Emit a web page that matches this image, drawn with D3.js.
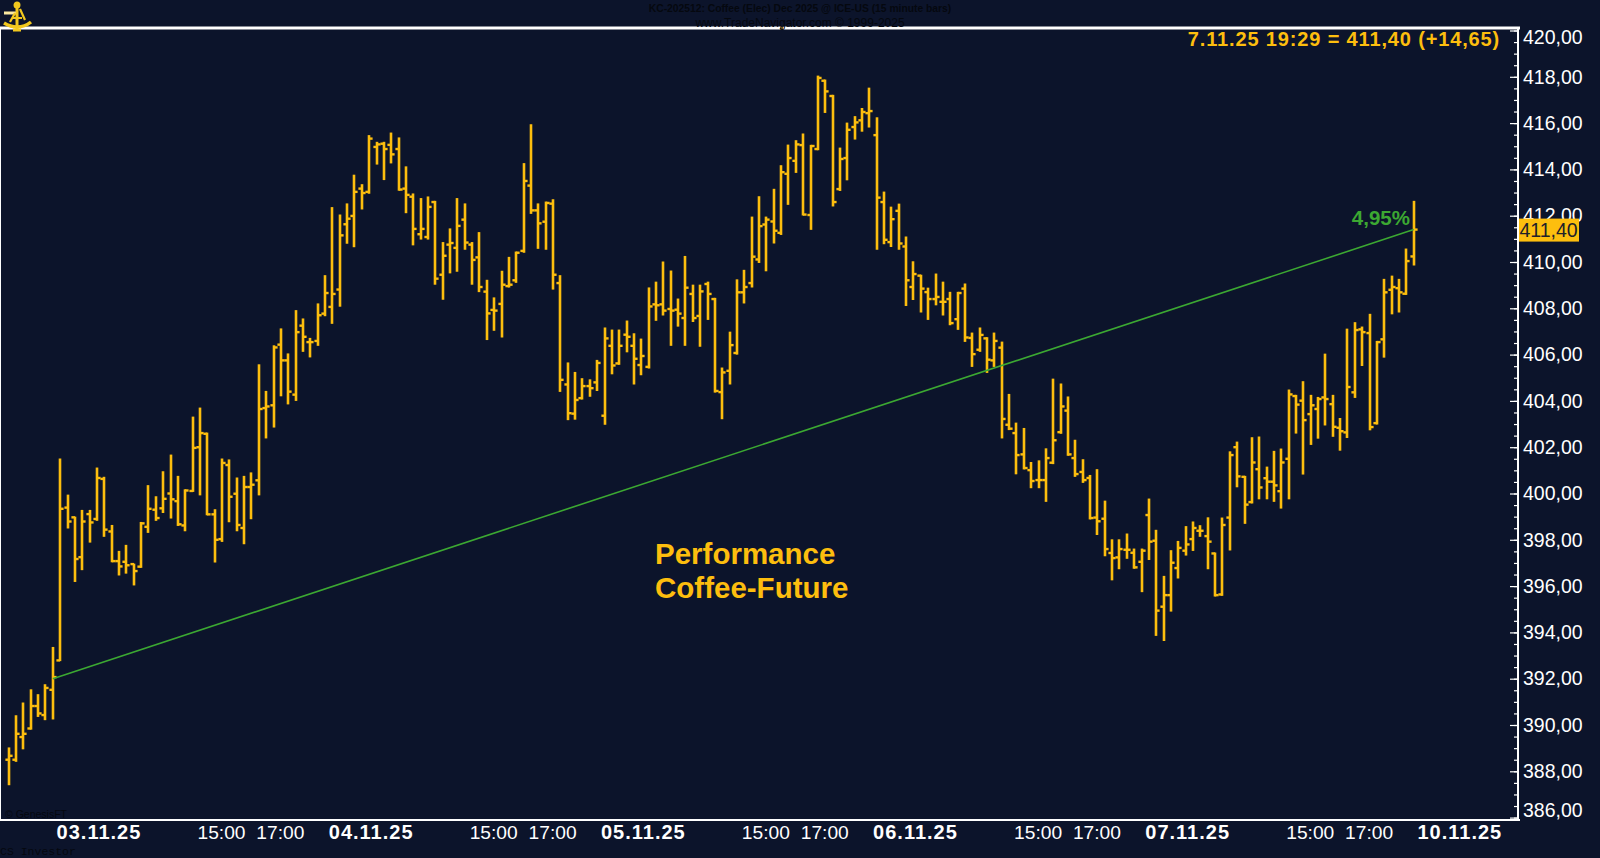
<!DOCTYPE html>
<html>
<head>
<meta charset="utf-8">
<script src="https://cdn.jsdelivr.net/npm/d3@7"></script>
<style>
  html, body { margin: 0; padding: 0; background: #0c142b; overflow: hidden; }
  text { font-family: "Liberation Sans", Arial, sans-serif; }
</style>
</head>
<body>
<div id="chart"></div>
<script>
// bars are 15 minute OHLC
var opens = [
  388.50,388.50,389.48,389.85,390.82,390.43,391.52,392.79,399.39,398.97,
  397.25,399.11,398.90,400.63,398.36,397.08,397.05,396.95,396.84,398.56,
  399.30,399.36,400.00,399.67,398.62,400.11,402.00,402.58,399.10,398.03,
  401.23,399.99,398.51,400.28,400.57,403.69,403.81,406.43,405.75,404.27,
  407.25,406.54,406.59,407.77,408.06,408.81,411.63,411.99,413.17,413.03,
  414.97,415.11,415.06,414.88,413.17,412.82,411.20,411.08,412.59,409.45,
  410.75,410.61,411.83,410.75,410.20,408.72,407.93,408.19,408.96,409.21,
  410.48,413.30,412.23,411.74,412.52,409.09,404.71,403.45,404.12,404.64,
  404.80,403.36,406.38,405.62,406.86,406.38,405.55,405.47,408.17,408.17,
  407.97,407.94,407.58,408.62,407.67,409.05,408.40,404.38,405.30,406.07,
  408.69,409.09,410.11,411.62,411.75,411.26,413.81,414.37,415.05,412.03,
  414.88,417.83,417.17,413.15,414.49,415.83,416.12,416.43,415.48,412.59,
  410.86,412.21,410.67,408.92,409.41,408.70,408.40,408.28,408.40,407.53,
  408.85,406.72,406.21,406.70,405.75,406.30,402.97,402.61,401.69,401.01,
  400.58,400.58,401.33,402.65,403.58,401.53,400.93,400.67,398.96,398.91,
  397.43,397.24,397.57,397.44,397.05,399.07,397.96,395.11,395.61,396.78,
  397.53,398.03,398.39,398.16,397.41,395.64,398.96,402.00,400.72,399.63,
  401.05,400.66,400.51,400.10,401.50,404.21,404.01,403.43,403.65,404.15,
  403.86,402.84,402.64,404.37,407.09,406.93,403.04,406.66,408.80,408.87,408.63,410.24
];
var highs = [
  389.01,390.40,390.95,391.52,391.31,391.74,393.35,401.49,399.93,398.98,
  399.27,399.27,401.10,400.70,398.62,397.50,397.76,396.95,398.75,400.34,
  399.86,400.94,401.66,400.74,400.16,403.30,403.69,402.61,399.30,401.49,
  401.45,400.67,400.74,400.89,405.56,404.41,406.38,407.11,406.03,407.90,
  407.54,406.70,408.19,409.41,412.35,412.03,412.51,413.75,413.34,415.46,
  415.17,415.17,415.57,415.36,414.11,412.94,412.74,412.81,412.62,410.84,
  411.43,412.74,412.51,410.84,411.27,409.21,408.45,409.60,410.20,410.43,
  414.25,415.93,412.51,412.59,412.69,409.41,405.64,405.23,404.96,404.91,
  405.75,407.15,407.06,407.06,407.45,406.90,406.67,408.88,409.13,410.00,
  409.61,408.40,410.24,409.00,409.00,409.13,408.43,405.42,406.97,409.23,
  409.64,411.94,412.82,411.94,413.14,414.16,415.05,415.24,415.53,415.04,
  418.03,417.86,417.20,414.92,416.00,416.28,416.63,417.51,416.23,413.02,
  412.37,412.50,411.08,410.01,409.43,408.87,409.48,409.13,408.69,408.69,
  409.05,406.93,407.15,406.73,406.93,406.54,404.28,403.04,402.81,401.34,
  401.41,401.93,404.94,404.73,404.17,402.30,401.46,400.78,401.03,399.67,
  398.00,398.00,398.25,397.60,397.60,399.76,398.41,396.42,397.53,397.93,
  398.57,398.77,398.61,398.95,397.43,398.94,401.80,402.22,400.74,402.41,
  402.44,401.14,401.82,401.92,404.47,404.24,404.83,404.24,404.15,406.02,
  404.24,403.24,407.10,407.38,407.19,407.74,406.57,409.25,409.39,409.25,410.56,412.62
];
var lows = [
  387.42,388.43,388.97,389.82,390.37,390.23,390.26,392.78,398.51,396.20,
  396.71,397.90,398.84,398.15,397.05,396.48,396.56,396.05,396.81,398.32,
  398.84,399.18,398.94,398.62,398.39,400.09,399.94,399.08,397.04,397.93,
  398.78,398.39,397.83,398.91,399.94,402.40,402.87,404.22,403.87,404.02,
  406.14,405.90,406.40,407.68,407.35,408.09,410.81,410.66,412.29,412.97,
  414.23,413.56,414.28,413.10,412.13,410.74,410.99,410.99,409.04,408.39,
  409.53,409.60,410.55,409.04,408.72,406.65,407.05,406.76,408.92,409.12,
  410.42,412.10,410.59,410.55,408.83,404.41,403.19,403.21,404.08,404.20,
  404.45,402.99,405.17,405.58,406.12,404.73,405.13,405.42,407.48,407.71,
  406.40,407.23,406.40,407.43,406.36,407.52,404.38,403.23,404.73,406.02,
  408.23,408.92,409.98,409.62,410.82,411.19,412.49,413.87,412.03,411.41,
  414.85,416.46,412.42,413.09,413.55,415.31,415.65,415.83,410.55,410.79,
  410.67,410.55,408.12,408.38,407.84,407.52,408.15,407.71,407.29,407.09,
  406.57,405.49,406.14,405.23,405.49,402.40,402.76,400.85,401.06,400.25,
  400.25,399.66,401.29,402.60,401.65,400.74,400.48,398.90,398.23,397.31,
  396.27,396.75,397.20,396.77,395.76,397.15,393.87,393.65,394.92,396.35,
  397.34,397.54,398.15,396.75,395.57,395.60,397.56,400.29,398.71,399.59,
  399.77,399.77,399.66,399.37,399.77,402.61,400.84,402.12,402.39,402.96,
  402.47,401.87,402.42,404.15,405.53,402.75,403.00,405.89,407.76,407.84,408.60,409.87
];
var closes = [
  388.67,389.62,389.62,390.82,390.50,391.60,392.07,399.34,398.79,397.17,
  398.79,398.75,400.67,398.44,397.08,396.85,396.90,396.65,398.71,399.34,
  398.94,399.77,399.75,398.67,400.13,401.97,402.61,399.10,398.00,401.32,
  399.86,398.64,400.28,400.38,403.65,403.76,406.31,405.75,404.40,406.97,
  406.77,406.54,407.70,408.66,408.62,411.15,411.87,413.03,412.98,415.33,
  415.08,414.88,414.65,413.13,412.90,411.43,411.43,412.38,409.28,410.27,
  410.82,411.56,410.84,410.09,408.92,407.78,407.90,409.02,409.02,410.40,
  413.50,412.23,411.67,412.55,409.45,404.91,403.47,404.04,404.64,404.55,
  405.64,406.70,405.53,406.38,406.77,405.82,405.94,408.08,408.13,407.90,
  407.90,407.77,408.89,407.58,408.73,408.62,404.43,405.23,406.41,408.69,
  408.92,410.23,411.55,411.83,411.35,413.88,414.49,415.08,412.05,415.01,
  417.95,417.37,412.59,414.45,415.71,416.03,416.48,416.52,412.78,410.96,
  411.85,410.80,409.21,409.48,408.85,408.40,408.49,408.28,407.36,408.66,
  406.74,406.02,406.85,405.78,406.59,403.22,402.80,401.66,401.10,400.54,
  400.58,401.53,402.30,403.76,401.69,400.84,400.58,398.94,398.80,397.60,
  397.21,397.60,397.57,396.81,397.53,397.92,394.94,395.61,397.01,397.65,
  397.80,398.51,398.39,397.92,395.61,398.64,401.66,400.74,399.52,401.34,
  400.26,400.51,400.35,401.34,404.28,403.84,403.17,403.81,404.08,404.08,
  402.88,402.69,404.60,407.06,406.97,402.87,406.54,408.69,408.92,408.69,410.04,411.40
];

// trend line goes from bar 6 to the last bar
var trendBars = [6, 191];
var trendPrices = [392.00, 411.40];

var majorTicks = d3.range(386, 421, 2);
var minorTicks = d3.range(386, 420.5, 0.5);

var dateTickBars = [12, 49, 86, 123, 160, 197];
var dateTickLabels = ["03.11.25", "04.11.25", "05.11.25", "06.11.25", "07.11.25", "10.11.25"];
var timeTickBars = [29, 37, 66, 74, 103, 111, 140, 148, 177, 185];
var timeTickLabels = ["15:00", "17:00", "15:00", "17:00", "15:00", "17:00", "15:00", "17:00", "15:00", "17:00"];

var bg = "#0c142b", gold = "#fdbe0e", green = "#3ca832", darkText = "#05080f";

var width = 1600, height = 858;
var svg = d3.select("#chart").append("svg")
    .attr("width", width)
    .attr("height", height)
    .style("display", "block");

svg.append("rect").attr("width", width).attr("height", height).attr("fill", bg);

var x = d3.scaleLinear().domain([0, 191]).range([8.7, 1413.7]);
var y = d3.scaleLinear().domain([386, 420]).range([817.6, 30.5]);

var bars = svg.append("g");

opens.forEach(function(o, i) {
  var px = Math.round(x(i));
  bars.append("line").attr("x1", px).attr("x2", px).attr("y1", y(highs[i]) - 0.5).attr("y2", y(lows[i]) + 0.5)
    .attr("stroke", gold).attr("stroke-width", 2.6);
  bars.append("line").attr("x1", px - 3.6).attr("x2", px).attr("y1", y(o)).attr("y2", y(o))
    .attr("stroke", gold).attr("stroke-width", 2.4);
  bars.append("line").attr("x1", px).attr("x2", px + 3.6).attr("y1", y(closes[i])).attr("y2", y(closes[i]))
    .attr("stroke", gold).attr("stroke-width", 2.4);
});

// performance line
var trendLine = d3.line()
    .x(function(d) { return x(d); })
    .y(function(d, i) { return y(trendPrices[i]); });

svg.append("path")
    .attr("d", trendLine(trendBars))
    .attr("fill", "none")
    .attr("stroke", green)
    .attr("stroke-width", 1.6);

// frame
var axisX = 1518;
svg.append("line").attr("x1", 0).attr("x2", 1520).attr("y1", 28).attr("y2", 28).attr("stroke", "#ffffff").attr("stroke-width", 3);
svg.append("line").attr("x1", 0.5).attr("x2", 0.5).attr("y1", 28).attr("y2", 820).attr("stroke", "#ffffff").attr("stroke-width", 1);
svg.append("line").attr("x1", 0).attr("x2", 1520).attr("y1", 820).attr("y2", 820).attr("stroke", "#ffffff").attr("stroke-width", 2);
svg.append("line").attr("x1", axisX).attr("x2", axisX).attr("y1", 28).attr("y2", 820).attr("stroke", "#ffffff").attr("stroke-width", 2);
svg.append("rect").attr("x", 780).attr("y", 27).attr("width", 3).attr("height", 3).attr("fill", "#6b5a2a");

// y axis: minor ticks, major ticks, then labels
var minorAxis = svg.append("g").attr("transform", "translate(" + axisX + ",0)")
    .call(d3.axisLeft(y).tickValues(minorTicks).tickSize(4).tickFormat(""));
var majorAxis = svg.append("g").attr("transform", "translate(" + axisX + ",0)")
    .call(d3.axisLeft(y).tickValues(majorTicks).tickSize(8).tickFormat(""));
minorAxis.selectAll(".domain").remove();
majorAxis.selectAll(".domain").remove();
svg.selectAll(".tick line").attr("stroke", "#ffffff").attr("stroke-width", 1.2);

var labelAxis = svg.append("g").attr("transform", "translate(" + axisX + ",0)")
    .call(d3.axisRight(y).tickValues(majorTicks).tickSize(0).tickPadding(5)
      .tickFormat(function(d) { return d3.format(".2f")(d).replace(".", ","); }));
labelAxis.selectAll(".domain").remove();
labelAxis.selectAll("text")
    .attr("fill", "#ffffff")
    .style("font-size", "19.5px")
    .style("font-family", '"Liberation Sans", Arial, sans-serif')
    .attr("y", function(d) { return Math.max(37, Math.min(810, y(d))) - y(d); });

// last price box
var lastPrice = closes[closes.length - 1];
svg.append("rect")
    .attr("x", 1519).attr("y", y(lastPrice) - 11).attr("width", 60).attr("height", 23).attr("fill", gold);
svg.append("text")
    .attr("x", 1519.5).attr("y", y(lastPrice) + 7)
    .attr("fill", "#20202a")
    .style("font-size", "19.5px")
    .text(d3.format(".2f")(lastPrice).replace(".", ","));

// x axis labels
var dateAxis = svg.append("g").attr("transform", "translate(1.5,820)")
    .call(d3.axisBottom(x).tickValues(dateTickBars).tickSize(0).tickPadding(5)
      .tickFormat(function(d, i) { return dateTickLabels[i]; }));
var timeAxis = svg.append("g").attr("transform", "translate(-1,820)")
    .call(d3.axisBottom(x).tickValues(timeTickBars).tickSize(0).tickPadding(5)
      .tickFormat(function(d, i) { return timeTickLabels[i]; }));
dateAxis.selectAll(".domain").remove();
timeAxis.selectAll(".domain").remove();
dateAxis.selectAll("text").attr("fill", "#ffffff")
    .style("font-size", "20px").style("font-weight", "bold").style("letter-spacing", "1px")
    .style("font-family", '"Liberation Sans", Arial, sans-serif');
timeAxis.selectAll("text").attr("fill", "#ffffff")
    .style("font-size", "19.2px")
    .style("font-family", '"Liberation Sans", Arial, sans-serif');

// annotations
svg.append("text").attr("x", 1500).attr("y", 46).attr("text-anchor", "end")
    .attr("fill", gold).style("font-size", "20px").style("font-weight", "bold").style("letter-spacing", "0.85px")
    .text("7.11.25 19:29 = 411,40 (+14,65)");
svg.append("text").attr("x", 655).attr("y", 564)
    .attr("fill", gold).style("font-size", "29.5px").style("font-weight", "bold")
    .text("Performance");
svg.append("text").attr("x", 655).attr("y", 598)
    .attr("fill", gold).style("font-size", "29.5px").style("font-weight", "bold")
    .text("Coffee-Future");
svg.append("text").attr("x", 1410).attr("y", 225).attr("text-anchor", "end")
    .attr("fill", green).style("font-size", "20.5px").style("font-weight", "bold")
    .text("4,95%");

// the dark header and footer texts
svg.append("text").attr("x", 800).attr("y", 12).attr("text-anchor", "middle")
    .attr("fill", darkText).style("font-size", "10.3px").style("font-weight", "bold")
    .text("KC-202512:  Coffee (Elec) Dec 2025 @ ICE-US  (15 minute bars)");
svg.append("text").attr("x", 800).attr("y", 27).attr("text-anchor", "middle")
    .attr("fill", darkText).style("font-size", "12px")
    .text("www.TradeNavigator.com © 1999-2025");
svg.append("text").attr("x", 5).attr("y", 818)
    .attr("fill", "#05080f").style("font-size", "10.5px")
    .text("© GenesisFT");
svg.append("text").attr("x", 0).attr("y", 855)
    .attr("fill", "#05080f").style("font-family", '"Liberation Mono", monospace').style("font-size", "11.5px")
    .text("CS Investor");

// little sextant logo in the corner
var logoGold = "#f2c81e";
var logo = svg.append("g").attr("fill", "none").attr("stroke", logoGold).attr("stroke-width", 2.2);
logo.append("path").attr("d", "M4,13H16").attr("stroke", "#fbe9a0").attr("stroke-width", 3);
logo.append("path").attr("d", "M17,5V30").attr("stroke-width", 3);
logo.append("path").attr("d", "M15,13L10,22M20,9L25,20M12,18H22");
logo.append("path").attr("d", "M4,23C9,26 12,27 17,27C22,27 26,26 31,22").attr("stroke-width", 3.5);
logo.append("circle").attr("cx", 17).attr("cy", 5).attr("r", 2.4).attr("fill", logoGold);
logo.append("path").attr("d", "M13,30H21").attr("stroke-width", 3);
</script>
</body>
</html>
